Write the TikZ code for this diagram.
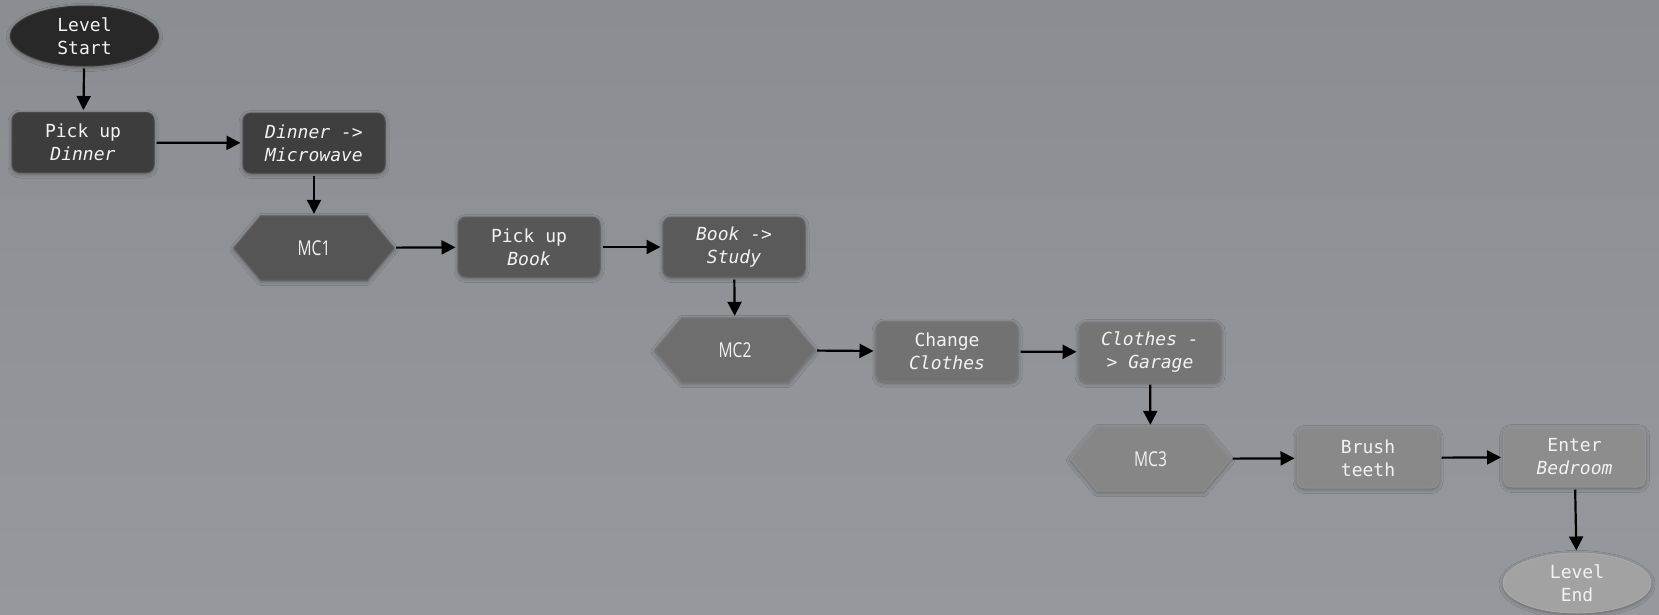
\documentclass[tikz,border=0pt]{standalone}
\usepackage{fontspec}
\newfontfamily\monofont{DejaVu Sans Mono}
\newfontfamily\mcfont{Open Sans}
\usetikzlibrary{arrows.meta,shapes.geometric,backgrounds,shadows.blur}
\definecolor{bgtop}{HTML}{8A8D91}
\definecolor{bgbot}{HTML}{95989C}
\definecolor{txt}{HTML}{F2F2F2}
\definecolor{cstart}{HTML}{282828}
\definecolor{cpd}{HTML}{3D3D3D}
\definecolor{cdm}{HTML}{3F3F3F}
\definecolor{cmone}{HTML}{555555}
\definecolor{cpb}{HTML}{575757}
\definecolor{cbs}{HTML}{5A5A5A}
\definecolor{cmtwo}{HTML}{6E6E6E}
\definecolor{ccc}{HTML}{727272}
\definecolor{ccg}{HTML}{757575}
\definecolor{cmthree}{HTML}{868686}
\definecolor{cbt}{HTML}{898989}
\definecolor{ceb}{HTML}{8D8D8D}
\definecolor{cend}{HTML}{A2A2A2}
\begin{document}
\begin{tikzpicture}[x=1pt,y=-1pt,
  shd/.style={blur shadow={shadow xshift=0pt,shadow yshift=-1.5pt,shadow blur radius=4pt,shadow opacity=35}},
  box/.style={rectangle, rounded corners=8pt, minimum width=142pt, minimum height=60pt,
    inner sep=0pt, align=center, font=\monofont\fontsize{18}{23}\selectfont, text=txt,
    fill=#1, draw=#1!94!white, line width=1pt, shd},
  term/.style={ellipse, minimum width=148pt, minimum height=60pt, inner sep=0pt,
    align=center, font=\monofont\fontsize{18}{23}\selectfont, text=txt, fill=#1, draw=#1!94!white, line width=1pt, shd},
  hexlbl/.style={rectangle, minimum width=160pt, minimum height=64pt, inner sep=0pt,
    font=\mcfont\fontsize{20.5}{24}\selectfont, text=txt},
  hexfill/.style={fill=#1, draw=#1!94!white, line width=1pt, shd},
  conn/.style={line width=2.2pt, black, -{Triangle[length=14pt,width=14pt]}, shorten <=2pt, shorten >=2pt}
]
\useasboundingbox (0,0) rectangle (1659,614);

% nodes
\node[term=cstart] (start) at (84.5,36) {Level\\Start};
\node[box=cpd] (pd) at (83,142.5) {Pick up\\\itshape Dinner};
\node[box=cdm] (dm) at (314,143) {\itshape Dinner ->\\\itshape Microwave};
\node[hexlbl] (m1) at (314,248) {\scalebox{0.76}[1]{MC1}};
\node[box=cpb] (pb) at (529,247) {Pick up\\\itshape Book};
\node[box=cbs] (bs) at (734,247) {\itshape Book ->\\\itshape Study};
\node[hexlbl] (m2) at (735,350) {\scalebox{0.76}[1]{MC2}};
\node[box=ccc] (cc) at (947,351.5) {Change\\\itshape Clothes};
\node[box=ccg] (cg) at (1150,352) {\itshape Clothes -\\\itshape > Garage};
\node[hexlbl] (m3) at (1150.5,459) {\scalebox{0.76}[1]{MC3}};
\node[box=cbt] (bt) at (1368,458) {Brush\\teeth};
\node[box=ceb] (eb) at (1574.5,457) {Enter\\\itshape Bedroom};
\node[term=cend] (end) at (1577,583) {Level\\End};

% background and hexagons
\begin{scope}[on background layer]
  \fill[top color=bgtop, bottom color=bgbot] (0,0) rectangle (1659,614);
  \foreach \n/\c in {m1/cmone, m2/cmtwo, m3/cmthree}{
    \path[hexfill=\c] ([xshift=27pt]\n.north west) -- ([xshift=-27pt]\n.north east) -- (\n.east)
      -- ([xshift=-27pt]\n.south east) -- ([xshift=27pt]\n.south west) -- (\n.west) -- cycle;
  }
\end{scope}

% connectors
\draw[conn] (start) -- (pd);
\draw[conn] (pd) -- (dm);
\draw[conn] (dm) -- (m1);
\draw[conn] (m1) -- (pb);
\draw[conn] (pb) -- (bs);
\draw[conn] (bs) -- (m2);
\draw[conn] (m2) -- (cc);
\draw[conn] (cc) -- (cg);
\draw[conn] (cg) -- (m3);
\draw[conn] (m3) -- (bt);
\draw[conn] (bt) -- (eb);
\draw[conn] (eb) -- (end);
\end{tikzpicture}
\end{document}
